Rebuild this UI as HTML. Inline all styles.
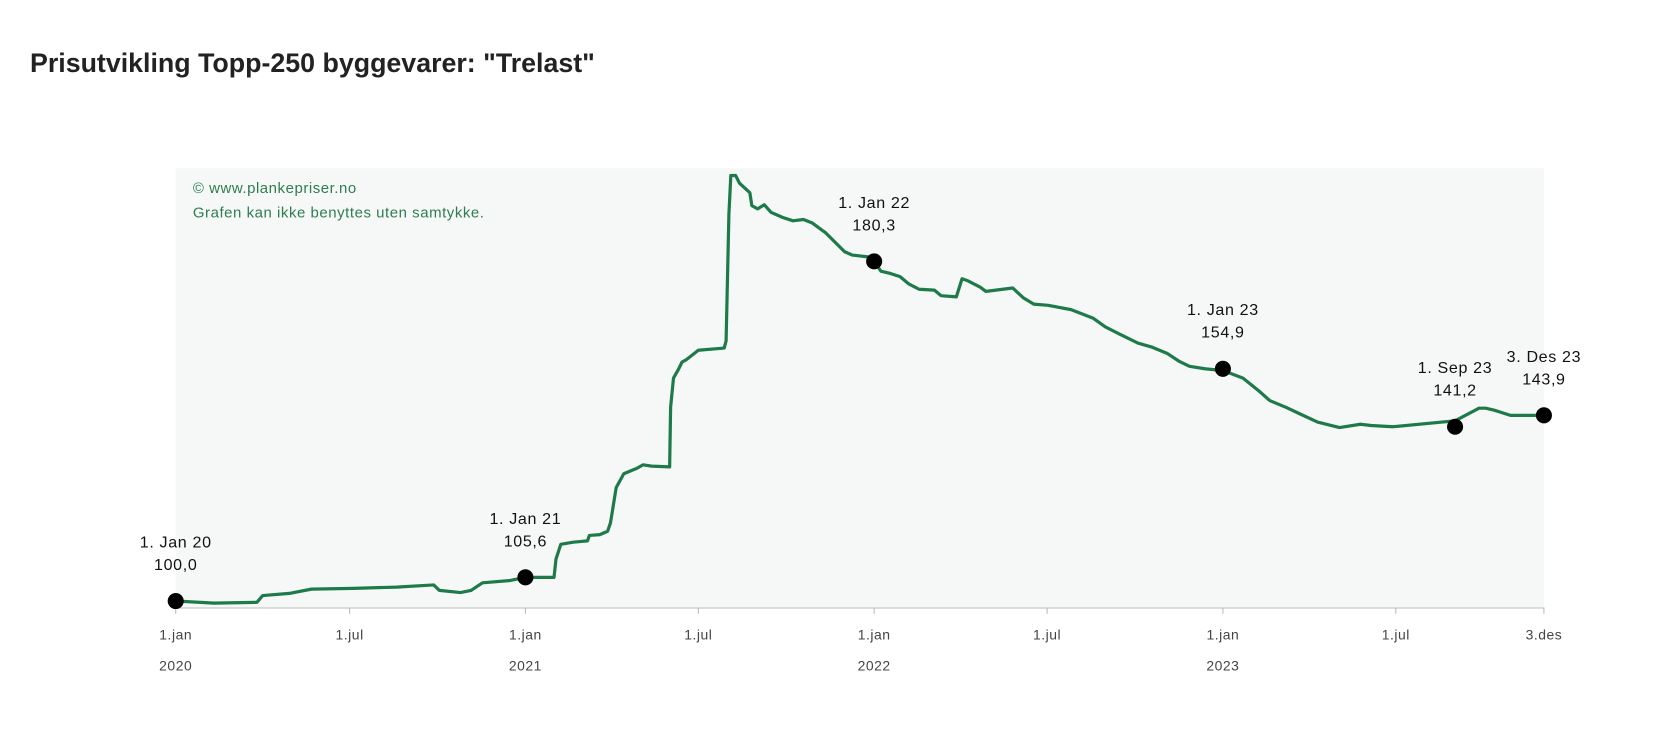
<!DOCTYPE html>
<html><head><meta charset="utf-8"><style>
body{margin:0;background:#fff;font-family:"Liberation Sans",sans-serif;}
svg{display:block}
</style></head><body>
<svg id="chart" width="1680" height="730" viewBox="0 0 1568 681.4" preserveAspectRatio="none">
<text x="28" y="67" font-size="25" font-weight="bold" fill="#222">Prisutvikling Topp-250 byggevarer: "Trelast"</text>
<rect x="164" y="157" width="1277" height="410" fill="#f6f8f7"/>
<text x="180" y="180" font-size="14" fill="#2e7d4f" letter-spacing="0.5">© www.plankepriser.no</text>
<text x="180" y="203" font-size="14" fill="#2e7d4f" letter-spacing="0.5">Grafen kan ikke benyttes uten samtykke.</text>
<line x1="164" y1="567.5" x2="1441" y2="567.5" stroke="#bbb" stroke-width="1"/>
<g id="ticks"></g>
<path id="line" fill="none" stroke="#1f7a4a" stroke-width="3" stroke-linejoin="round"/>
<g id="ann"></g>
</svg>
<script>
const days=[0,40,85,91,119,142,186,231,270,276,298,309,321,349,366,396,398,403,416,431,433,444,452,455,461,469,483,489,498,517,518,521,526,530,534,547,574,576,579,581,586,590,601,603,609,616,623,635,646,657,666,677,680,700,708,727,731,738,747,758,767,778,794,801,817,823,829,842,848,876,887,898,913,937,960,973,988,1007,1022,1038,1050,1061,1078,1096,1117,1134,1145,1162,1178,1195,1218,1240,1251,1274,1339,1364,1371,1380,1397,1432];
const values=[100.0,99.5,99.7,101.3,101.8,102.8,103.0,103.3,103.8,102.5,102.0,102.5,104.3,104.8,105.6,105.6,109.9,113.4,113.9,114.2,115.5,115.7,116.5,118.5,126.8,130.1,131.4,132.2,131.9,131.7,145.8,152.7,154.7,156.5,157.0,159.3,159.8,161.5,191.4,200.6,200.6,198.8,196.5,193.5,192.7,193.7,191.9,190.7,189.9,190.2,189.4,187.6,187.1,182.6,181.8,181.3,180.3,178.0,177.5,176.7,175.0,173.7,173.5,172.2,171.9,176.2,175.7,174.2,173.2,174.0,171.7,170.2,169.9,168.9,166.9,164.8,163.1,161.0,160.0,158.5,156.7,155.5,154.9,154.5,152.7,149.6,147.4,145.8,144.1,142.3,141.0,141.8,141.5,141.2,142.6,145.6,145.6,145.1,143.9,143.9];
const annDays=[0,366,731,1096,1339,1432];
const annValues=[100.0,105.6,180.3,154.9,141.2,143.9];
const annLabels=["1. Jan 20","1. Jan 21","1. Jan 22","1. Jan 23","1. Sep 23","3. Des 23"];
const annValueLabels=["100,0","105,6","180,3","154,9","141,2","143,9"];
const tickDays=[0,182,366,547,731,912,1096,1277,1432];
const tickLabels=["1.jan","1.jul","1.jan","1.jul","1.jan","1.jul","1.jan","1.jul","3.des"];
const yearLabels=["2020","","2021","","2022","","2023","",""];

const X=d=>164+d*(1277/1432);
const Y=v=>561-(v-100)*3.948;
const NS="http://www.w3.org/2000/svg";
let d="";
days.forEach((t,i)=>{d+=(i?"L":"M")+X(t).toFixed(1)+","+Y(values[i]).toFixed(1);});
document.getElementById("line").setAttribute("d",d);

const tg=document.getElementById("ticks");
tickDays.forEach((t,i)=>{
  const x=X(t);
  const l=document.createElementNS(NS,"line");
  l.setAttribute("x1",x);l.setAttribute("x2",x);l.setAttribute("y1",567);l.setAttribute("y2",573);
  l.setAttribute("stroke","#bbb");
  
  
  tg.appendChild(l);
  const tx=document.createElementNS(NS,"text");
  tx.setAttribute("x",x);tx.setAttribute("y",597);tx.setAttribute("text-anchor","middle");
  tx.setAttribute("font-size","13");tx.setAttribute("fill","#444");tx.setAttribute("letter-spacing","0.5");
  tx.textContent=tickLabels[i];
  
  
  tg.appendChild(tx);
  if(yearLabels[i]){
    const yt=document.createElementNS(NS,"text");
    yt.setAttribute("x",x);yt.setAttribute("y",626);yt.setAttribute("text-anchor","middle");
    yt.setAttribute("font-size","13");yt.setAttribute("fill","#444");yt.setAttribute("letter-spacing","0.5");
    yt.textContent=yearLabels[i];
    
    
    tg.appendChild(yt);
  }
});

const ag=document.getElementById("ann");
annDays.forEach((t,i)=>{
  const x=X(t),y=Y(annValues[i]);
  const c=document.createElementNS(NS,"circle");
  c.setAttribute("cx",x);c.setAttribute("cy",y);c.setAttribute("r",7.5);c.setAttribute("fill","#000");
  
  
  ag.appendChild(c);
  [[annLabels[i],-50],[annValueLabels[i],-29]].forEach(([s,o])=>{
    const tx=document.createElementNS(NS,"text");
    tx.setAttribute("x",x);tx.setAttribute("y",y+o);tx.setAttribute("text-anchor","middle");
    tx.setAttribute("font-size","15");tx.setAttribute("fill","#111");tx.setAttribute("letter-spacing","0.6");
    tx.textContent=s;
    
    
    ag.appendChild(tx);
  });
});
</script>
</body></html>
